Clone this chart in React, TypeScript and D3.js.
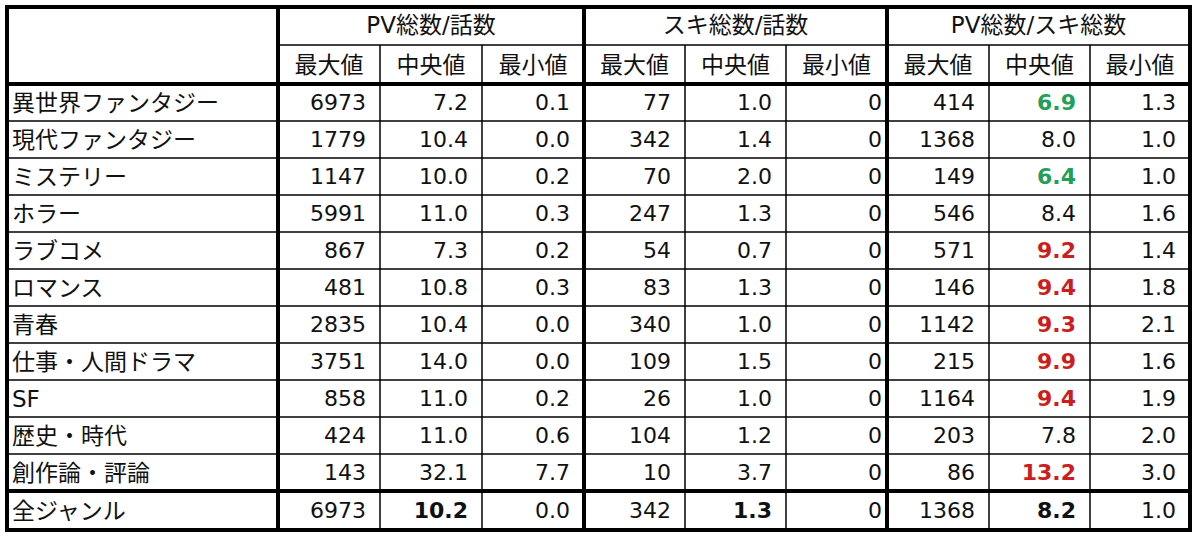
import React from 'react';
import * as d3 from 'd3';

const categories = [
  '異世界ファンタジー', '現代ファンタジー', 'ミステリー', 'ホラー', 'ラブコメ', 'ロマンス',
  '青春', '仕事・人間ドラマ', 'SF', '歴史・時代', '創作論・評論',
];
const totalLabel = '全ジャンル';
const groupLabels = ['PV総数/話数', 'スキ総数/話数', 'PV総数/スキ総数'];
const statLabels = ['最大値', '中央値', '最小値'];

const pvMax = [6973, 1779, 1147, 5991, 867, 481, 2835, 3751, 858, 424, 143];
const pvMed = [7.2, 10.4, 10.0, 11.0, 7.3, 10.8, 10.4, 14.0, 11.0, 11.0, 32.1];
const pvMin = [0.1, 0.0, 0.2, 0.3, 0.2, 0.3, 0.0, 0.0, 0.2, 0.6, 7.7];
const skiMax = [77, 342, 70, 247, 54, 83, 340, 109, 26, 104, 10];
const skiMed = [1.0, 1.4, 2.0, 1.3, 0.7, 1.3, 1.0, 1.5, 1.0, 1.2, 3.7];
const skiMin = [0, 0, 0, 0, 0, 0, 0, 0, 0, 0, 0];
const ratioMax = [414, 1368, 149, 546, 571, 146, 1142, 215, 1164, 203, 86];
const ratioMed = [6.9, 8.0, 6.4, 8.4, 9.2, 9.4, 9.3, 9.9, 9.4, 7.8, 13.2];
const ratioMin = [1.3, 1.0, 1.0, 1.6, 1.4, 1.8, 2.1, 1.6, 1.9, 2.0, 3.0];
// 'low' = green, 'high' = red
const ratioMedMark = ['low', '', 'low', '', 'high', 'high', 'high', 'high', 'high', '', 'high'];

const totalRow = [6973, 10.2, 0.0, 342, 1.3, 0, 1368, 8.2, 1.0];
const totalBold = [false, true, false, false, true, false, false, true, false];

export default function App() {
  const W = 1200;
  const H = 540;
  const colEdges = [7, 278, 380, 482, 584, 685, 786, 887, 989, 1090, 1190];
  const top = 7;
  const head1 = 45;
  const head2 = 84;
  const bodyEnd = 491;
  const bottom = 530;

  const y = d3.scaleLinear().domain([0, categories.length]).range([head2, bodyEnd]);
  const rowH = y(1) - y(0);

  const fmtInt = d3.format('d');
  const fmt1 = d3.format('.1f');

  const columns = [
    { vals: pvMax, f: fmtInt, pad: 14 },
    { vals: pvMed, f: fmt1, pad: 14 },
    { vals: pvMin, f: fmt1, pad: 14 },
    { vals: skiMax, f: fmtInt, pad: 14 },
    { vals: skiMed, f: fmt1, pad: 14 },
    { vals: skiMin, f: fmtInt, pad: 5 },
    { vals: ratioMax, f: fmtInt, pad: 14 },
    { vals: ratioMed, f: fmt1, pad: 14 },
    { vals: ratioMin, f: fmt1, pad: 14 },
  ];

  const font = "'DejaVu Sans', 'Noto Sans CJK JP', sans-serif";
  const jpSize = 23;
  const thick = 4;
  const thin = 1.5;
  const thickCols = new Set([0, 1, 4, 7, 10]);

  const base = (t: number, b: number) => (t + b) / 2 + 7;

  return (
    <svg width={W} height={H} style={{ position: 'absolute', left: 0, top: 0, background: '#fff' }}
      fontFamily={font} fontSize={22}>
      <rect x={0} y={0} width={W} height={H} fill="#fff" />

      {/* group headers */}
      {groupLabels.map((g, i) => (
        <text key={g} x={(colEdges[1 + i * 3] + colEdges[4 + i * 3]) / 2} y={base(top, head1)}
          textAnchor="middle" fill="#111" fontSize={jpSize}>{g}</text>
      ))}
      {groupLabels.map((g, i) => statLabels.map((s, j) => (
        <text key={g + s} x={(colEdges[1 + i * 3 + j] + colEdges[2 + i * 3 + j]) / 2} y={base(head1, head2) + 1}
          textAnchor="middle" fill="#111" fontSize={jpSize}>{s}</text>
      )))}

      {/* body rows */}
      {categories.map((c, r) => {
        const t = y(r);
        return (
          <g key={c}>
            <text x={12} y={base(t, t + rowH) + 1} fill="#111" fontSize={jpSize}>{c}</text>
            {columns.map((col, k) => {
              const mark = k === 7 ? ratioMedMark[r] : '';
              return (
                <text key={k} x={colEdges[k + 2] - col.pad} y={base(t, t + rowH)} textAnchor="end"
                  fill={mark === 'low' ? '#22a05a' : mark === 'high' ? '#cc1e1e' : '#111'}
                  fontWeight={mark ? 'bold' : 'normal'}>
                  {col.f(col.vals[r])}
                </text>
              );
            })}
          </g>
        );
      })}

      {/* total row */}
      <text x={12} y={base(bodyEnd, bottom) + 1} fill="#111" fontSize={jpSize}>{totalLabel}</text>
      {totalRow.map((v, k) => (
        <text key={k} x={colEdges[k + 2] - columns[k].pad} y={base(bodyEnd, bottom)} textAnchor="end"
          fill="#111" fontWeight={totalBold[k] ? 'bold' : 'normal'}>
          {columns[k].f(v)}
        </text>
      ))}

      {/* thin horizontal lines */}
      <line x1={colEdges[1]} x2={colEdges[10]} y1={head1} y2={head1} stroke="#000" strokeWidth={thin} />
      {d3.range(1, categories.length).map(r => (
        <line key={r} x1={colEdges[0]} x2={colEdges[10]} y1={y(r)} y2={y(r)} stroke="#000" strokeWidth={thin} />
      ))}

      {/* vertical lines */}
      {colEdges.map((x, i) => (i === 0 || i === 10 ? null : (
        <line key={i} x1={x} x2={x} y1={thickCols.has(i) ? top : head1} y2={bottom}
          stroke="#000" strokeWidth={thickCols.has(i) ? thick : thin} />
      )))}

      {/* thick horizontal lines */}
      <line x1={colEdges[0]} x2={colEdges[10]} y1={head2} y2={head2} stroke="#000" strokeWidth={thick} />
      <line x1={colEdges[0]} x2={colEdges[10]} y1={bodyEnd} y2={bodyEnd} stroke="#000" strokeWidth={thick} />

      {/* outer border */}
      <rect x={colEdges[0]} y={top} width={colEdges[10] - colEdges[0]} height={bottom - top}
        fill="none" stroke="#000" strokeWidth={thick} />
    </svg>
  );
}
